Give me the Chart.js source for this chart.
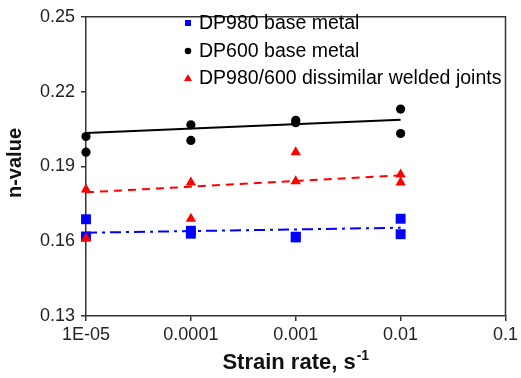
<!DOCTYPE html>
<html>
<head>
<meta charset="utf-8">
<script src="https://cdn.jsdelivr.net/npm/chart.js@4/dist/chart.umd.min.js"></script>
<style>
  html, body { margin: 0; padding: 0; background: #fff; }
  #wrap { width: 521px; height: 378px; position: relative; }
</style>
</head>
<body>
<div id="wrap"><canvas id="c" width="521" height="378"></canvas></div>
<script>
// ---- data ----
const strainRates = [1e-5, 1e-4, 1e-3, 1e-2];
const seriesNames = ['DP980 base metal', 'DP600 base metal', 'DP980/600 dissimilar welded joints'];
const dp980A = [0.1688, 0.1642, 0.1615, 0.1690];
const dp980B = [0.1619, 0.1630, 0.1618, 0.1628];
const dp600A = [0.2020, 0.2067, 0.2085, 0.2130];
const dp600B = [0.1957, 0.2004, 0.2075, 0.2032];
const weldA  = [0.1807, 0.1835, 0.1957, 0.1868];
const weldB  = [0.1612, 0.1690, 0.1840, 0.1835];
const trendRates = [1e-5, 1e-2];
const dp980Trend = [0.1634, 0.1654];
const dp600Trend = [0.2034, 0.2087];
const weldTrend  = [0.1796, 0.1864];
const xTickLabels = ['1E-05', '0.0001', '0.001', '0.01', '0.1'];
const yTickLabels = ['0.13', '0.16', '0.19', '0.22', '0.25'];
const xTitle = 'Strain rate, s';
const xTitleSup = '-1';
const yTitle = 'n-value';

const pts = (xs, a, b) => {
  const out = [];
  xs.forEach((x, i) => { out.push({x: x, y: a[i]}); if (b) out.push({x: x, y: b[i]}); });
  return out;
};

const FONT = '"Liberation Sans", Arial, sans-serif';
const AXIS = '#333333';

const frameAndTitles = {
  id: 'frameAndTitles',
  afterDraw(chart) {
    const ctx = chart.ctx;
    const a = chart.chartArea;
    ctx.save();
    // top and right frame
    ctx.strokeStyle = AXIS;
    ctx.lineWidth = 1.5;
    ctx.beginPath();
    ctx.moveTo(a.left, a.top);
    ctx.lineTo(a.right, a.top);
    ctx.lineTo(a.right, a.bottom);
    ctx.stroke();

    // x title with superscript
    ctx.fillStyle = '#111';
    ctx.textBaseline = 'alphabetic';
    ctx.font = 'bold 22px ' + FONT;
    const w1 = ctx.measureText(xTitle).width;
    ctx.font = 'bold 14px ' + FONT;
    const w2 = ctx.measureText(xTitleSup).width;
    const cx = (a.left + a.right) / 2;
    const startX = cx - (w1 + w2 + 1) / 2;
    ctx.font = 'bold 22px ' + FONT;
    ctx.textAlign = 'left';
    ctx.fillText(xTitle, startX, 369);
    ctx.font = 'bold 14px ' + FONT;
    ctx.fillText(xTitleSup, startX + w1 + 1, 360);

    // y title rotated
    ctx.save();
    ctx.translate(15, 163);
    ctx.rotate(-Math.PI / 2);
    ctx.font = 'bold 20px ' + FONT;
    ctx.textAlign = 'center';
    ctx.textBaseline = 'middle';
    ctx.fillText(yTitle, 0, 0);
    ctx.restore();

    // legend
    const lx = 188, tx = 199, rows = [23, 51, 78];
    ctx.font = '19.5px ' + FONT;
    ctx.textAlign = 'left';
    ctx.textBaseline = 'middle';
    rows.forEach((ry, i) => {
      ctx.fillStyle = ['#0000FF', '#000000', '#FF0000'][i];
      ctx.beginPath();
      if (i === 0) {
        ctx.rect(lx - 3, ry - 3, 6, 6);
      } else if (i === 1) {
        ctx.arc(lx, ry, 3.3, 0, Math.PI * 2);
      } else {
        ctx.moveTo(lx, ry - 4);
        ctx.lineTo(lx + 4, ry + 3);
        ctx.lineTo(lx - 4, ry + 3);
        ctx.closePath();
      }
      ctx.fill();
      ctx.fillStyle = '#000';
      ctx.fillText(seriesNames[i], tx, ry + 1);
    });
    ctx.restore();
  }
};

new Chart(document.getElementById('c'), {
  type: 'scatter',
  data: {
    datasets: [
      { label: seriesNames[2], data: pts(strainRates, weldA, weldB), pointStyle: 'triangle',
        pointRadius: 6, backgroundColor: '#FF0000', borderColor: '#FF0000', borderWidth: 0, clip: false, order: 1 },
      { label: seriesNames[0], data: pts(strainRates, dp980A, dp980B), pointStyle: 'rect',
        pointRadius: 7, backgroundColor: '#0000FF', borderColor: '#0000FF', borderWidth: 0, clip: false, order: 2 },
      { label: seriesNames[1], data: pts(strainRates, dp600A, dp600B), pointStyle: 'circle',
        pointRadius: 4.6, backgroundColor: '#000000', borderColor: '#000000', borderWidth: 0, clip: false, order: 2 },
      { label: 'DP980 trend', data: pts(trendRates, dp980Trend), showLine: true, pointRadius: 0,
        borderColor: '#0000FF', borderWidth: 2, borderDash: [11, 5, 3, 5], clip: false, order: 3 },
      { label: 'DP600 trend', data: pts(trendRates, dp600Trend), showLine: true, pointRadius: 0,
        borderColor: '#000000', borderWidth: 2, clip: false, order: 3 },
      { label: 'Weld trend', data: pts(trendRates, weldTrend), showLine: true, pointRadius: 0,
        borderColor: '#FF0000', borderWidth: 2, borderDash: [8, 6], clip: false, order: 3 }
    ]
  },
  options: {
    responsive: false,
    animation: false,
    events: [],
    layout: { padding: { top: 11, right: 12, left: 0, bottom: 0 } },
    plugins: { legend: { display: false }, tooltip: { enabled: false } },
    scales: {
      x: {
        type: 'logarithmic',
        min: 1e-5, max: 0.1,
        afterBuildTicks(s) { s.ticks = xTickLabels.map(l => ({ value: parseFloat(l) })); },
        afterFit(s) { s.height = 62; },
        ticks: {
          callback: (v, i) => xTickLabels[i],
          font: { family: FONT, size: 18 }, color: '#222', padding: 3,
          maxRotation: 0, autoSkip: false
        },
        grid: { drawOnChartArea: false, drawTicks: true, tickLength: 5, color: AXIS, lineWidth: 1.5 },
        border: { display: true, color: AXIS, width: 1.5 }
      },
      y: {
        type: 'linear',
        min: 0.13, max: 0.25,
        afterBuildTicks(s) { s.ticks = yTickLabels.map(l => ({ value: parseFloat(l) })); },
        afterFit(s) { s.width = 86; },
        ticks: {
          callback: (v, i) => yTickLabels[i],
          font: { family: FONT, size: 18 }, color: '#222', padding: 6
        },
        grid: { drawOnChartArea: false, drawTicks: true, tickLength: 5, color: AXIS, lineWidth: 1.5 },
        border: { display: true, color: AXIS, width: 1.5 }
      }
    }
  },
  plugins: [frameAndTitles]
});
</script>
</body>
</html>
